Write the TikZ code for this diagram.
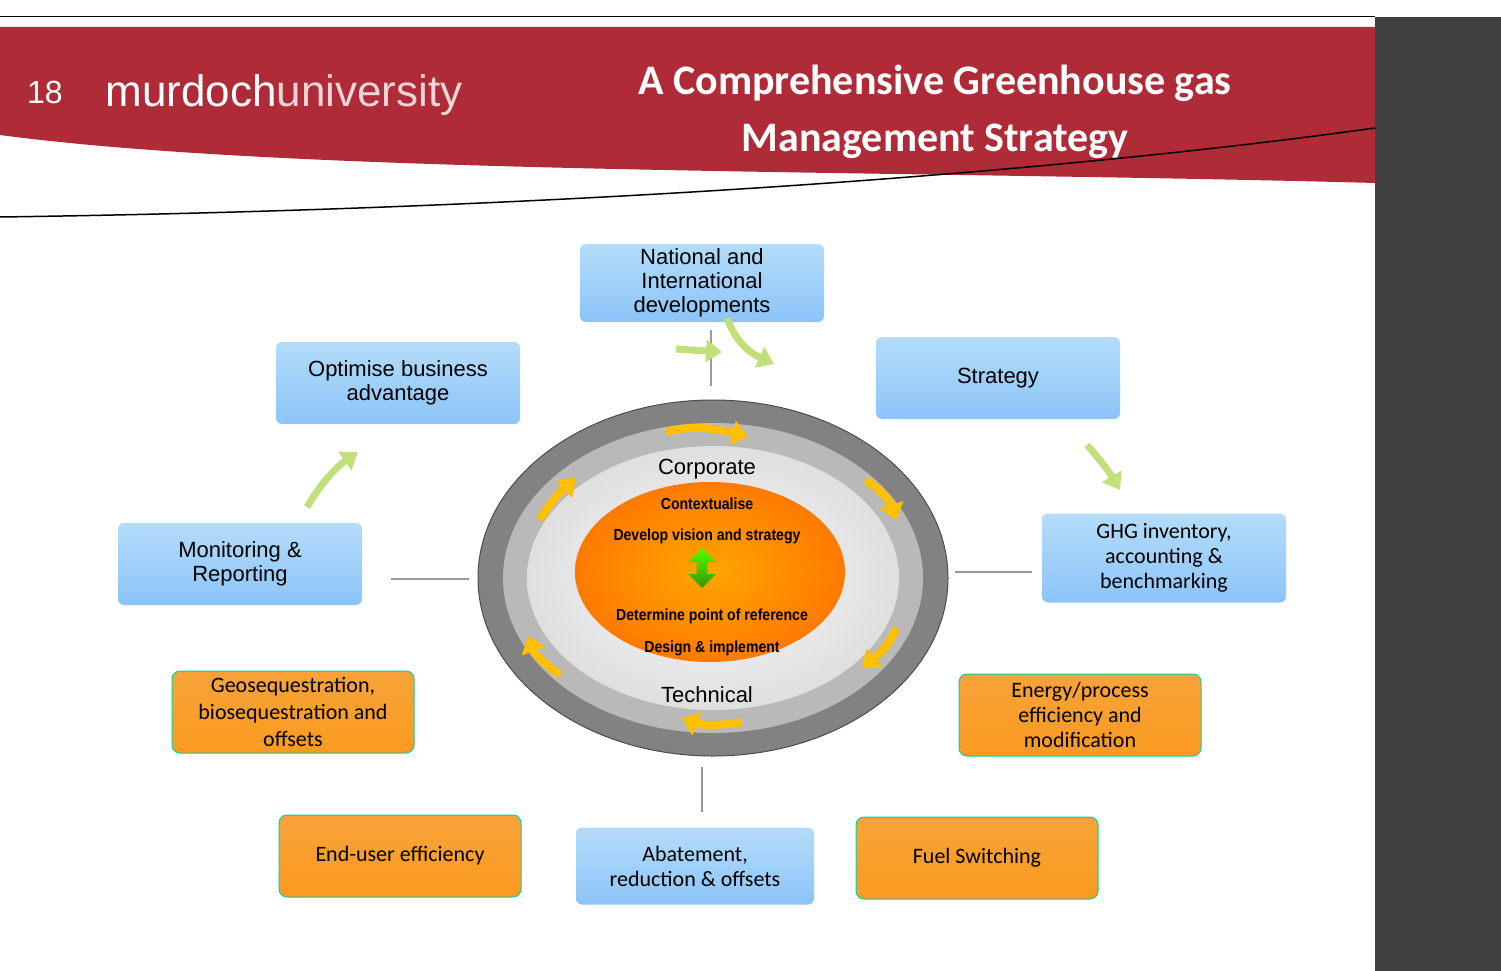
\documentclass[tikz,border=0pt]{standalone}
\usepackage{fontspec}
\setmainfont{Liberation Sans}
\newfontfamily\calfont{Carlito}
\usetikzlibrary{arrows.meta,shapes.arrows}
\definecolor{banner}{HTML}{AE2B37}
\definecolor{bluetop}{HTML}{B4DCFA}
\definecolor{bluebot}{HTML}{8CC4F8}
\definecolor{orgtop}{HTML}{F7A33A}
\definecolor{orgbot}{HTML}{FB9A1E}
\definecolor{garrow}{HTML}{C2E07A}
\definecolor{yarrow}{HTML}{FFC000}
\tikzset{
 bluebox/.style={rounded corners=6pt,top color=bluetop,bottom color=bluebot,draw=none,minimum width=244pt,minimum height=82pt,align=center,font=\fontsize{22}{24}\selectfont},
 orgbox/.style={rounded corners=8pt,top color=orgtop,bottom color=orgbot,draw=green!60!black!40!cyan,line width=1pt,minimum width=242pt,minimum height=82pt,align=center,font=\calfont\fontsize{22}{27}\selectfont},
 conn/.style={draw=gray!80,line width=2.5pt},
 garr/.style={draw=garrow,line width=7pt,-{Triangle[width=22pt,length=16pt]}},
 yarr/.style={draw=yarrow,line width=8pt,-{Triangle[width=24pt,length=16pt]}},
 inner/.style={font=\bfseries\fontsize{16}{18}\selectfont,xscale=0.88},
}
\begin{document}
\begin{tikzpicture}[x=1pt,y=-1pt]
\useasboundingbox (0,0) rectangle (1501,971);
\fill[white] (0,0) rectangle (1501,971);
\draw[black,line width=1pt] (0,17) -- (1375,17);
\fill[black!75] (1375,17) rectangle (1501,971);
\fill[banner] (0,27) -- (1375,27) -- (1375,183) .. controls (900,170) and (300,175) .. (0,135) -- cycle;
\draw[black,line width=1.5pt] (0,217) .. controls (500,210) and (1000,180) .. (1375,128);
\node[white,font=\fontsize{32}{34}\selectfont] (num) at (45,92) {18};
\node[font=\fontsize{44}{46}\selectfont,anchor=west] (logo) at (102,95) {\textcolor{white}{murdoch}\textcolor{white!80!banner}{university}};
\node[white,font=\calfont\bfseries\fontsize{42}{57}\selectfont,align=center] (title) at (935,112) {A Comprehensive Greenhouse gas\\Management Strategy};
% ellipses
\draw[fill=gray!85!black!85,draw=black!70,line width=1pt] (713,578) ellipse (235 and 178);
\fill[gray!55] (713,578) ellipse (210 and 155);
\shade[inner color=white!95!gray,outer color=gray!25] (713,578) ellipse (186 and 132);
\shade[inner color=orange!70!yellow,outer color=orange!90!red!95!yellow] (710,572) ellipse (135 and 90);
\node[font=\fontsize{22}{24}\selectfont] (corp) at (707,469) {Corporate};
\node[font=\fontsize{22}{24}\selectfont] (tech) at (707,695) {Technical};
\node[inner] (c1) at (707,504) {Contextualise};
\node[inner] (c2) at (707,536) {Develop vision and strategy};
\node[inner] (c3) at (712,616) {Determine point of reference};
\node[inner] (c4) at (712,648) {Design \& implement};
\node[double arrow,double arrow head extend=5pt,minimum height=40pt,minimum width=28pt,inner sep=3pt,rotate=90,top color=green!60!lime,bottom color=green!40!black!70!lime,draw=none] (da) at (702,568) {};
% yellow arrows
\draw[yarr] (666,432) .. controls (690,425) and (715,428) .. (748,437);
\draw[yarr] (866,480) .. controls (880,490) and (890,500) .. (896,520);
\draw[yarr] (896,628) .. controls (890,645) and (878,655) .. (862,668);
\draw[yarr] (742,722) .. controls (720,726) and (700,725) .. (682,718);
\draw[yarr] (560,675) .. controls (545,664) and (535,655) .. (528,636);
\draw[yarr] (540,520) .. controls (548,505) and (560,492) .. (576,478);
% boxes
\node[bluebox,minimum height=78pt] (nat) at (702,283) {National and\\International\\developments};
\node[bluebox] (opt) at (398,383) {Optimise business\\advantage};
\node[bluebox] (str) at (998,378) {Strategy};
\node[bluebox] (mon) at (240,564) {Monitoring \&\\Reporting};
\node[bluebox,minimum height=89pt,font=\calfont\fontsize{22}{25}\selectfont] (ghg) at (1164,558) {GHG inventory,\\accounting \&\\benchmarking};
\node[bluebox,minimum height=77pt,minimum width=238pt,font=\calfont\fontsize{22}{25}\selectfont] (aba) at (695,866) {Abatement,\\reduction \& offsets};
\node[orgbox] (geo) at (293,712) {Geosequestration,\\biosequestration and\\offsets};
\node[orgbox,font=\calfont\fontsize{22}{25}\selectfont] (ene) at (1080,715) {Energy/process\\efficiency and\\modification};
\node[orgbox] (end) at (400,856) {End-user efficiency};
\node[orgbox] (fue) at (977,858) {Fuel Switching};
% connectors
\coordinate (l1) at (391,579); \coordinate (l2) at (469,579);
\coordinate (r1) at (955,572); \coordinate (r2) at (1032,572);
\coordinate (b1) at (702,767); \coordinate (b2) at (702,812);
\coordinate (t1) at (711,330); \coordinate (t2) at (711,386);
\draw[conn] (l1) -- (l2);
\draw[conn] (r1) -- (r2);
\draw[conn] (b1) -- (b2);
\draw[conn] (t1) -- (t2);
% green arrows
\draw[garr] (676,349) -- (722,352);
\draw[garr] (727,318) .. controls (735,340) and (748,352) .. (774,364);
\draw[garr] (307,507) .. controls (320,485) and (335,468) .. (358,452);
\draw[garr] (1087,445) .. controls (1100,460) and (1108,470) .. (1120,490);
\end{tikzpicture}
\end{document}
